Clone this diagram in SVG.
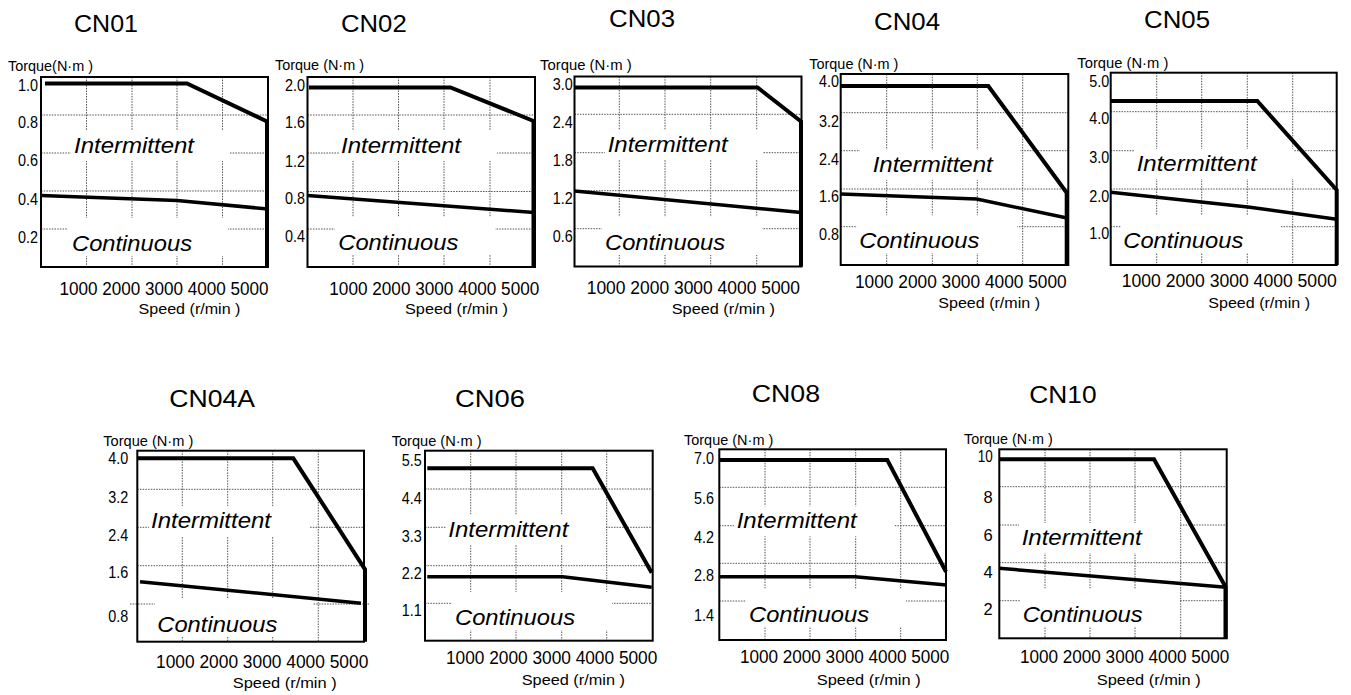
<svg xmlns="http://www.w3.org/2000/svg" width="1351" height="695" viewBox="0 0 1351 695">
<style>
.bg{fill:#fff}
.grid{stroke:#555;stroke-width:1;stroke-dasharray:1.5 1.2;fill:none}
.mask{fill:#fff}
.box{fill:none;stroke:#000;stroke-width:2}
.cv{fill:none;stroke:#000;stroke-width:4;stroke-linejoin:miter}
.cc{fill:none;stroke:#000;stroke-width:3.5}
text{font-family:"Liberation Sans",Arial,sans-serif;fill:#000}
.ti{font-size:24px}
.lb{font-size:22px;font-style:italic}
.ax{font-size:15px}
.yl{font-size:16.5px;text-anchor:end}
.xl{font-size:18px}
</style>
<rect class="bg" x="0" y="0" width="1351" height="695"/>

<g id="CN01">
<path class="grid" d="M86.5 77V267M132 77V267M177 77V267M222.5 77V267M41 115H268M41 153H268M41 191H268M41 229H268"/>
<rect class="mask" x="71" y="131" width="158" height="30"/>
<rect class="mask" x="68" y="218" width="160" height="38"/>
<rect class="box" x="41" y="77" width="227" height="190"/>
<polyline class="cv" points="45,83.5 187,83.5 267,121.5 267,267"/>
<polyline class="cc" points="41,195.5 177,200.5 268,209"/>
<text class="ti" x="74" y="32" textLength="64" lengthAdjust="spacingAndGlyphs">CN01</text>
<text class="ax" x="8" y="70.5" textLength="85" lengthAdjust="spacingAndGlyphs">Torque(N·m )</text>
<text class="yl" x="38" y="90.5" textLength="20" lengthAdjust="spacingAndGlyphs">1.0</text><text class="yl" x="38" y="127.5" textLength="20" lengthAdjust="spacingAndGlyphs">0.8</text><text class="yl" x="38" y="166" textLength="20" lengthAdjust="spacingAndGlyphs">0.6</text><text class="yl" x="38" y="204.5" textLength="20" lengthAdjust="spacingAndGlyphs">0.4</text><text class="yl" x="38" y="242.5" textLength="20" lengthAdjust="spacingAndGlyphs">0.2</text>
<text class="lb" x="74" y="153" textLength="120" lengthAdjust="spacingAndGlyphs">Intermittent</text>
<text class="lb" x="72" y="251" textLength="120" lengthAdjust="spacingAndGlyphs">Continuous</text>
<text class="xl" x="59.5" y="294.5" textLength="209" lengthAdjust="spacingAndGlyphs">1000 2000 3000 4000 5000</text>
<text class="ax" x="138.5" y="314" textLength="102" lengthAdjust="spacingAndGlyphs">Speed (r/min )</text>
</g>

<g id="CN02">
<path class="grid" d="M353 77V267M398.5 77V267M444 77V267M490 77V267M307.5 115H535M307.5 153H535M307.5 191.5H535M307.5 229H535"/>
<rect class="mask" x="339" y="131" width="158" height="30"/>
<rect class="mask" x="335" y="217" width="160" height="38"/>
<rect class="box" x="307.5" y="77" width="227.5" height="190"/>
<polyline class="cv" points="309,87.5 450.5,87.5 533.5,121 533.5,267"/>
<polyline class="cc" points="307.5,195.5 534,212.5"/>
<text class="ti" x="341" y="31.5" textLength="65.7" lengthAdjust="spacingAndGlyphs">CN02</text>
<text class="ax" x="275" y="70" textLength="89" lengthAdjust="spacingAndGlyphs">Torque (N·m )</text>
<text class="yl" x="305" y="91" textLength="20" lengthAdjust="spacingAndGlyphs">2.0</text><text class="yl" x="305" y="128" textLength="20" lengthAdjust="spacingAndGlyphs">1.6</text><text class="yl" x="305" y="166.5" textLength="20" lengthAdjust="spacingAndGlyphs">1.2</text><text class="yl" x="305" y="204" textLength="20" lengthAdjust="spacingAndGlyphs">0.8</text><text class="yl" x="305" y="241.5" textLength="20" lengthAdjust="spacingAndGlyphs">0.4</text>
<text class="lb" x="341" y="152.5" textLength="120" lengthAdjust="spacingAndGlyphs">Intermittent</text>
<text class="lb" x="338.3" y="250" textLength="120" lengthAdjust="spacingAndGlyphs">Continuous</text>
<text class="xl" x="329.3" y="294.5" textLength="210" lengthAdjust="spacingAndGlyphs">1000 2000 3000 4000 5000</text>
<text class="ax" x="405" y="313.5" textLength="103" lengthAdjust="spacingAndGlyphs">Speed (r/min )</text>
</g>

<g id="CN03">
<path class="grid" d="M619.3 76.5V266.5M665 76.5V266.5M710.7 76.5V266.5M756.7 76.5V266.5M574.5 114.3H801.5M574.5 152.7H801.5M574.5 190.7H801.5M574.5 228.7H801.5"/>
<rect class="mask" x="605" y="130" width="158" height="30"/>
<rect class="mask" x="602" y="217" width="160" height="38"/>
<rect class="box" x="574.5" y="76.5" width="227" height="190"/>
<polyline class="cv" points="575,87.5 757.5,87.5 801,121.5 801,266.5"/>
<polyline class="cc" points="574.5,191 801.5,212.5"/>
<text class="ti" x="609" y="26.7" textLength="66" lengthAdjust="spacingAndGlyphs">CN03</text>
<text class="ax" x="540" y="70" textLength="91.7" lengthAdjust="spacingAndGlyphs">Torque (N·m )</text>
<text class="yl" x="572.7" y="90" textLength="20" lengthAdjust="spacingAndGlyphs">3.0</text><text class="yl" x="572.7" y="127.7" textLength="20" lengthAdjust="spacingAndGlyphs">2.4</text><text class="yl" x="572.7" y="166" textLength="20" lengthAdjust="spacingAndGlyphs">1.8</text><text class="yl" x="572.7" y="204" textLength="20" lengthAdjust="spacingAndGlyphs">1.2</text><text class="yl" x="572.7" y="241.7" textLength="20" lengthAdjust="spacingAndGlyphs">0.6</text>
<text class="lb" x="607.7" y="151.7" textLength="120" lengthAdjust="spacingAndGlyphs">Intermittent</text>
<text class="lb" x="605" y="250" textLength="120" lengthAdjust="spacingAndGlyphs">Continuous</text>
<text class="xl" x="586.7" y="294" textLength="213.3" lengthAdjust="spacingAndGlyphs">1000 2000 3000 4000 5000</text>
<text class="ax" x="671.7" y="313.5" textLength="103.3" lengthAdjust="spacingAndGlyphs">Speed (r/min )</text>
</g>

<g id="CN04">
<path class="grid" d="M886.7 74V265M932.3 74V265M977.3 74V265M1022.7 74V265M840.7 112.7H1068.3M840.7 150.7H1068.3M840.7 189H1068.3M840.7 226.7H1068.3"/>
<rect class="mask" x="860" y="149.7" width="160" height="30"/>
<rect class="mask" x="857" y="215.3" width="160" height="38"/>
<rect class="box" x="840.7" y="74" width="227.6" height="191"/>
<polyline class="cv" points="840.7,86 988.3,86 1066.7,192.7 1066.7,265"/>
<polyline class="cc" points="840.7,194 976.7,199 1068.3,218.3"/>
<text class="ti" x="874" y="30" textLength="66" lengthAdjust="spacingAndGlyphs">CN04</text>
<text class="ax" x="809.3" y="68.5" textLength="89" lengthAdjust="spacingAndGlyphs">Torque (N·m )</text>
<text class="yl" x="839" y="87.3" textLength="20" lengthAdjust="spacingAndGlyphs">4.0</text><text class="yl" x="839" y="126.7" textLength="20" lengthAdjust="spacingAndGlyphs">3.2</text><text class="yl" x="839" y="165" textLength="20" lengthAdjust="spacingAndGlyphs">2.4</text><text class="yl" x="839" y="201.7" textLength="20" lengthAdjust="spacingAndGlyphs">1.6</text><text class="yl" x="839" y="240" textLength="20" lengthAdjust="spacingAndGlyphs">0.8</text>
<text class="lb" x="872.7" y="171.7" textLength="120" lengthAdjust="spacingAndGlyphs">Intermittent</text>
<text class="lb" x="859.3" y="248.3" textLength="120" lengthAdjust="spacingAndGlyphs">Continuous</text>
<text class="xl" x="855" y="288" textLength="211.7" lengthAdjust="spacingAndGlyphs">1000 2000 3000 4000 5000</text>
<text class="ax" x="938.3" y="308" textLength="101.7" lengthAdjust="spacingAndGlyphs">Speed (r/min )</text>
</g>

<g id="CN05">
<path class="grid" d="M1156.7 72.7V265M1201.7 72.7V265M1247.3 72.7V265M1292.7 72.7V265M1110.7 111.7H1336.7M1110.7 150.7H1336.7M1110.7 189H1336.7M1110.7 226.7H1336.7"/>
<rect class="mask" x="1134" y="149" width="160" height="30"/>
<rect class="mask" x="1121" y="215" width="160" height="38"/>
<rect class="box" x="1110.7" y="72.7" width="226" height="192.3"/>
<polyline class="cv" points="1110.7,101 1257.3,101 1336.7,190 1336.7,265"/>
<polyline class="cc" points="1110.7,192.3 1250,207.3 1336.7,219.3"/>
<text class="ti" x="1144" y="28.3" textLength="66" lengthAdjust="spacingAndGlyphs">CN05</text>
<text class="ax" x="1077.3" y="68" textLength="91" lengthAdjust="spacingAndGlyphs">Torque (N·m )</text>
<text class="yl" x="1109.3" y="87.3" textLength="20" lengthAdjust="spacingAndGlyphs">5.0</text><text class="yl" x="1109.3" y="124" textLength="20" lengthAdjust="spacingAndGlyphs">4.0</text><text class="yl" x="1109.3" y="163.3" textLength="20" lengthAdjust="spacingAndGlyphs">3.0</text><text class="yl" x="1109.3" y="201.7" textLength="20" lengthAdjust="spacingAndGlyphs">2.0</text><text class="yl" x="1109.3" y="239.3" textLength="20" lengthAdjust="spacingAndGlyphs">1.0</text>
<text class="lb" x="1136.7" y="171" textLength="120" lengthAdjust="spacingAndGlyphs">Intermittent</text>
<text class="lb" x="1123.3" y="248.3" textLength="120" lengthAdjust="spacingAndGlyphs">Continuous</text>
<text class="xl" x="1121.7" y="286.5" textLength="215" lengthAdjust="spacingAndGlyphs">1000 2000 3000 4000 5000</text>
<text class="ax" x="1208.3" y="308" textLength="101.7" lengthAdjust="spacingAndGlyphs">Speed (r/min )</text>
</g>

<g id="CN04A">
<path class="grid" d="M182.3 450.7V641.7M227.7 450.7V641.7M272.7 450.7V641.7M318.3 450.7V641.7M137.3 489.3H364M137.3 527.3H364M137.3 565.7H364M130 604H370"/>
<rect class="mask" x="149" y="506" width="160" height="30"/>
<rect class="mask" x="155" y="598.7" width="158" height="38"/>
<rect class="box" x="137.3" y="450.7" width="226.7" height="191"/>
<polyline class="cv" points="137.3,458.3 293.3,458.3 365,569.3 365,641.7"/>
<polyline class="cc" points="140,581.7 361,603.3"/>
<text class="ti" x="169.3" y="406.7" textLength="85.7" lengthAdjust="spacingAndGlyphs">CN04A</text>
<text class="ax" x="103.3" y="446" textLength="90" lengthAdjust="spacingAndGlyphs">Torque (N·m )</text>
<text class="yl" x="128.3" y="464" textLength="20" lengthAdjust="spacingAndGlyphs">4.0</text><text class="yl" x="128.3" y="502.7" textLength="20" lengthAdjust="spacingAndGlyphs">3.2</text><text class="yl" x="128.3" y="540.7" textLength="20" lengthAdjust="spacingAndGlyphs">2.4</text><text class="yl" x="128.3" y="578.3" textLength="20" lengthAdjust="spacingAndGlyphs">1.6</text><text class="yl" x="128.3" y="621.7" textLength="20" lengthAdjust="spacingAndGlyphs">0.8</text>
<text class="lb" x="151" y="528.3" textLength="120" lengthAdjust="spacingAndGlyphs">Intermittent</text>
<text class="lb" x="157.3" y="632" textLength="120" lengthAdjust="spacingAndGlyphs">Continuous</text>
<text class="xl" x="156" y="668.3" textLength="212.3" lengthAdjust="spacingAndGlyphs">1000 2000 3000 4000 5000</text>
<text class="ax" x="232.7" y="688" textLength="104" lengthAdjust="spacingAndGlyphs">Speed (r/min )</text>
</g>

<g id="CN06">
<path class="grid" d="M470.7 450.7V640.7M516 450.7V640.7M561.7 450.7V640.7M606.7 450.7V640.7M425 489H652.7M425 527.3H652.7M425 565.7H652.7M425 603.3H652.7"/>
<rect class="mask" x="446" y="514.7" width="160" height="30"/>
<rect class="mask" x="452" y="592" width="160" height="38"/>
<rect class="box" x="425" y="450.7" width="227.7" height="190"/>
<polyline class="cv" points="427.3,468.3 592.7,468.3 651.7,572.7"/>
<polyline class="cc" points="427.3,576.7 562.7,576.7 651.7,587.3"/>
<text class="ti" x="455" y="406.7" textLength="70" lengthAdjust="spacingAndGlyphs">CN06</text>
<text class="ax" x="391.7" y="446" textLength="90" lengthAdjust="spacingAndGlyphs">Torque (N·m )</text>
<text class="yl" x="421.7" y="465.7" textLength="20" lengthAdjust="spacingAndGlyphs">5.5</text><text class="yl" x="421.7" y="504" textLength="20" lengthAdjust="spacingAndGlyphs">4.4</text><text class="yl" x="421.7" y="541.7" textLength="20" lengthAdjust="spacingAndGlyphs">3.3</text><text class="yl" x="421.7" y="579.3" textLength="20" lengthAdjust="spacingAndGlyphs">2.2</text><text class="yl" x="421.7" y="616" textLength="20" lengthAdjust="spacingAndGlyphs">1.1</text>
<text class="lb" x="448.3" y="536.7" textLength="120" lengthAdjust="spacingAndGlyphs">Intermittent</text>
<text class="lb" x="455" y="625" textLength="120" lengthAdjust="spacingAndGlyphs">Continuous</text>
<text class="xl" x="446" y="664" textLength="211.3" lengthAdjust="spacingAndGlyphs">1000 2000 3000 4000 5000</text>
<text class="ax" x="521.7" y="685" textLength="103.3" lengthAdjust="spacingAndGlyphs">Speed (r/min )</text>
</g>

<g id="CN08">
<path class="grid" d="M765 449.3V640M810 449.3V640M855.7 449.3V640M900.7 449.3V640M719.3 487.3H946M719.3 525.7H946M719.3 563.3H946M719.3 601H946"/>
<rect class="mask" x="734" y="506.3" width="160" height="30"/>
<rect class="mask" x="746" y="588.7" width="160" height="38"/>
<rect class="box" x="719.3" y="449.3" width="226.7" height="190.7"/>
<polyline class="cv" points="719.3,460 887.3,460 946,571.7"/>
<polyline class="cc" points="719.3,576.7 855,576.7 946.7,585"/>
<text class="ti" x="751.7" y="401.7" textLength="68.3" lengthAdjust="spacingAndGlyphs">CN08</text>
<text class="ax" x="684" y="445" textLength="89.3" lengthAdjust="spacingAndGlyphs">Torque (N·m )</text>
<text class="yl" x="714" y="464" textLength="20" lengthAdjust="spacingAndGlyphs">7.0</text><text class="yl" x="714" y="504" textLength="20" lengthAdjust="spacingAndGlyphs">5.6</text><text class="yl" x="714" y="542.7" textLength="20" lengthAdjust="spacingAndGlyphs">4.2</text><text class="yl" x="714" y="580.7" textLength="20" lengthAdjust="spacingAndGlyphs">2.8</text><text class="yl" x="714" y="620.7" textLength="20" lengthAdjust="spacingAndGlyphs">1.4</text>
<text class="lb" x="736.7" y="528.3" textLength="120" lengthAdjust="spacingAndGlyphs">Intermittent</text>
<text class="lb" x="749" y="621.7" textLength="120" lengthAdjust="spacingAndGlyphs">Continuous</text>
<text class="xl" x="740" y="663.3" textLength="209.3" lengthAdjust="spacingAndGlyphs">1000 2000 3000 4000 5000</text>
<text class="ax" x="816.7" y="685" textLength="104" lengthAdjust="spacingAndGlyphs">Speed (r/min )</text>
</g>

<g id="CN10">
<path class="grid" d="M1045 449.3V638.3M1090 449.3V638.3M1135 449.3V638.3M1180.7 449.3V638.3M999.3 486.7H1226.7M999.3 525H1226.7M999.3 562.7H1226.7M999.3 600.7H1226.7"/>
<rect class="mask" x="1019" y="523" width="160" height="30"/>
<rect class="mask" x="1020" y="588.7" width="160" height="38"/>
<rect class="box" x="999.3" y="449.3" width="227.4" height="189"/>
<polyline class="cv" points="999.3,459.3 1154,459.3 1225.5,586.7 1225.5,638.3"/>
<polyline class="cc" points="999.3,568.3 1226,587.3"/>
<text class="ti" x="1029.3" y="403.3" textLength="67.3" lengthAdjust="spacingAndGlyphs">CN10</text>
<text class="ax" x="964" y="444" textLength="88.7" lengthAdjust="spacingAndGlyphs">Torque (N·m )</text>
<text class="yl" x="992.7" y="461.7" textLength="15" lengthAdjust="spacingAndGlyphs">10</text><text class="yl" x="992.7" y="502.7">8</text><text class="yl" x="992.7" y="540.7">6</text><text class="yl" x="992.7" y="578.3">4</text><text class="yl" x="992.7" y="615">2</text>
<text class="lb" x="1021.7" y="545" textLength="120" lengthAdjust="spacingAndGlyphs">Intermittent</text>
<text class="lb" x="1022.7" y="621.7" textLength="120" lengthAdjust="spacingAndGlyphs">Continuous</text>
<text class="xl" x="1020" y="663.3" textLength="209.3" lengthAdjust="spacingAndGlyphs">1000 2000 3000 4000 5000</text>
<text class="ax" x="1096.7" y="685" textLength="104" lengthAdjust="spacingAndGlyphs">Speed (r/min )</text>
</g>
</svg>
